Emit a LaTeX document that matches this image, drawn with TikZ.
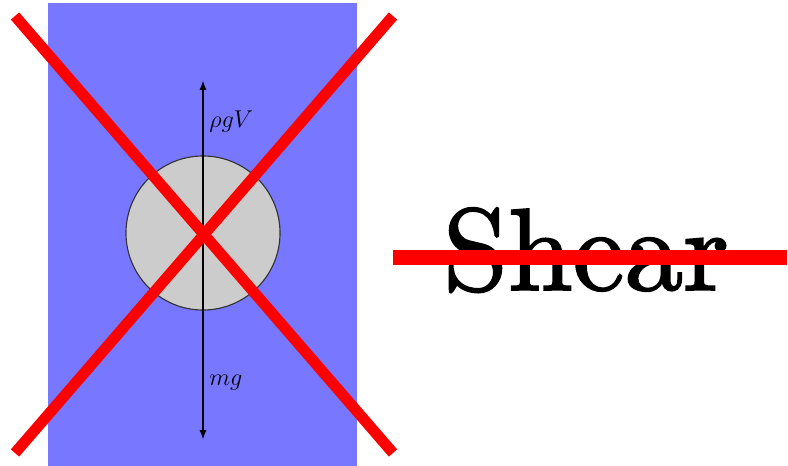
\documentclass[tikz,border=0pt]{standalone}
\usepackage{amsmath,amssymb}
\usepackage{fontspec}
\newfontfamily\shearfont[Extension=.otf, FakeBold=1.6]{lmroman10-regular}
\usetikzlibrary{arrows.meta,positioning}
\definecolor{water}{RGB}{119,119,255}
\definecolor{ballgray}{RGB}{204,204,204}

\begin{document}
\begin{tikzpicture}[x=0.025cm, y=-0.025cm,
  force/.style={draw=black, line width=1.3pt, -{Latex[length=7pt, width=5pt]}},
  flabel/.style={anchor=west, inner sep=0pt, font=\fontsize{17}{20}\selectfont},
  cross/.style={draw=red, line width=7.8pt},
  strike/.style={draw=red, line width=10.6pt}]
\useasboundingbox (0,0) rectangle (788,466);
% tank of fluid
\fill[water] (48,3) rectangle (357,466);
\node[circle, draw=black!80, line width=0.8pt, fill=ballgray, minimum size=3.85cm, inner sep=0pt] (ball) at (203,233) {};
\coordinate (up) at (203,80);
\coordinate (down) at (203,440);
\draw[force] (ball.center) -- (up);
\draw[force] (ball.center) -- (down);
\node[flabel] (buoy) at (209,122) {$\rho g V$};
\node[flabel] (weight) at (209,383) {$mg$};
% crossed out
\coordinate (xa) at (15,16);  \coordinate (xb) at (393,453);
\coordinate (xc) at (393,16); \coordinate (xd) at (15,453);
\draw[cross] (xa) -- (xb);
\draw[cross] (xc) -- (xd);
% word
\node[anchor=base, inner sep=0pt, font=\shearfont\fontsize{83}{90}\selectfont] (word) at (586,290) {Shear};
\coordinate (sl) at (393,257.5);
\coordinate (sr) at (787,257.5);
\draw[strike] (sl) -- (sr);
\end{tikzpicture}
\end{document}
